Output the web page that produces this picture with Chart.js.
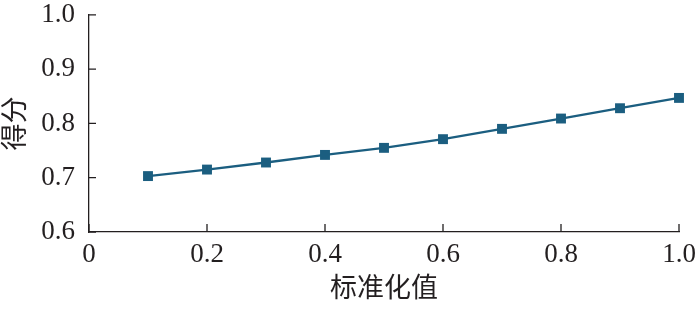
<!DOCTYPE html>
<html>
<head>
<meta charset="utf-8">
<script src="https://cdn.jsdelivr.net/npm/chart.js@4.4.1/dist/chart.umd.min.js"></script>
<style>
html,body{margin:0;padding:0;background:#fff;}
#wrap{width:700px;height:309px;position:relative;}
</style>
</head>
<body>
<div id="wrap"><canvas id="c" width="700" height="309"></canvas></div>
<script>
const xValues = [0.1, 0.2, 0.3, 0.4, 0.5, 0.6, 0.7, 0.8, 0.9, 1.0];
const scores  = [0.703, 0.715, 0.728, 0.742, 0.755, 0.771, 0.790, 0.809, 0.828, 0.847];
const xTickLabels = ['0', '0.2', '0.4', '0.6', '0.8', '1.0'];
const yTickLabels = ['0.6', '0.7', '0.8', '0.9', '1.0'];
const xTitle = '标准化值';
const yTitle = '得分';

const serif = '"Liberation Serif", "Times New Roman", "Noto Sans CJK SC", serif';
const cjk = '"Noto Sans CJK SC", "Liberation Serif", serif';
const axisColor = '#231f20';
const lineColor = '#1b5e80';

const inwardTicks = {
  id: 'inwardTicks',
  afterDraw(chart) {
    const ctx = chart.ctx;
    const xs = chart.scales.x, ys = chart.scales.y;
    ctx.save();
    ctx.strokeStyle = axisColor;
    ctx.lineWidth = 1.3;
    ctx.beginPath();
    xs.ticks.forEach(t => {
      const px = xs.getPixelForValue(t.value);
      ctx.moveTo(px, ys.bottom);
      ctx.lineTo(px, ys.bottom - 8);
    });
    ys.ticks.forEach(t => {
      const py = ys.getPixelForValue(t.value);
      ctx.moveTo(xs.left, py);
      ctx.lineTo(xs.left + 7, py);
    });
    ctx.stroke();
    ctx.restore();
  }
};

new Chart(document.getElementById('c'), {
  type: 'line',
  data: {
    datasets: [{
      data: xValues.map((x, i) => ({x: x, y: scores[i]})),
      borderColor: lineColor,
      backgroundColor: lineColor,
      borderWidth: 2.3,
      pointStyle: 'rect',
      pointRadius: 7,
      pointBorderWidth: 0,
      pointBackgroundColor: lineColor,
      tension: 0,
      fill: false,
      clip: false
    }]
  },
  options: {
    responsive: false,
    animation: false,
    events: [],
    layout: { padding: { top: 0, right: 21, left: 0, bottom: 0 } },
    plugins: { legend: { display: false }, tooltip: { enabled: false } },
    scales: {
      x: {
        type: 'linear',
        min: 0, max: 1,
        afterFit(s) { s.height = 77; },
        afterBuildTicks(s) { s.ticks = xTickLabels.map(v => ({value: parseFloat(v)})); },
        grid: { display: false, drawTicks: true, tickLength: 8, tickColor: 'rgba(0,0,0,0)' },
        border: { display: true, color: axisColor, width: 1.3 },
        ticks: {
          padding: 0,
          color: axisColor,
          font: { family: serif, size: 27, lineHeight: 1.1 },
          callback: (v, i) => xTickLabels[i]
        },
        title: {
          display: true, text: xTitle, color: axisColor,
          font: { family: cjk, size: 27, lineHeight: 1 },
          padding: { top: 0, bottom: 9 }
        }
      },
      y: {
        type: 'linear',
        min: 0.6, max: 1.0,
        afterFit(s) { s.width = 89; },
        afterBuildTicks(s) { s.ticks = yTickLabels.map(v => ({value: parseFloat(v)})); },
        grid: { display: false, drawTicks: true, tickLength: 14, tickColor: 'rgba(0,0,0,0)' },
        border: { display: true, color: axisColor, width: 1.3 },
        ticks: {
          padding: 0,
          color: axisColor,
          font: { family: serif, size: 27, lineHeight: 1.1 },
          callback: (v, i) => yTickLabels[i]
        },
        title: {
          display: true, text: yTitle, color: axisColor,
          font: { family: cjk, size: 27, lineHeight: 1 },
          padding: { top: 0, bottom: 0 }
        }
      }
    }
  },
  plugins: [inwardTicks]
});
</script>
</body>
</html>
